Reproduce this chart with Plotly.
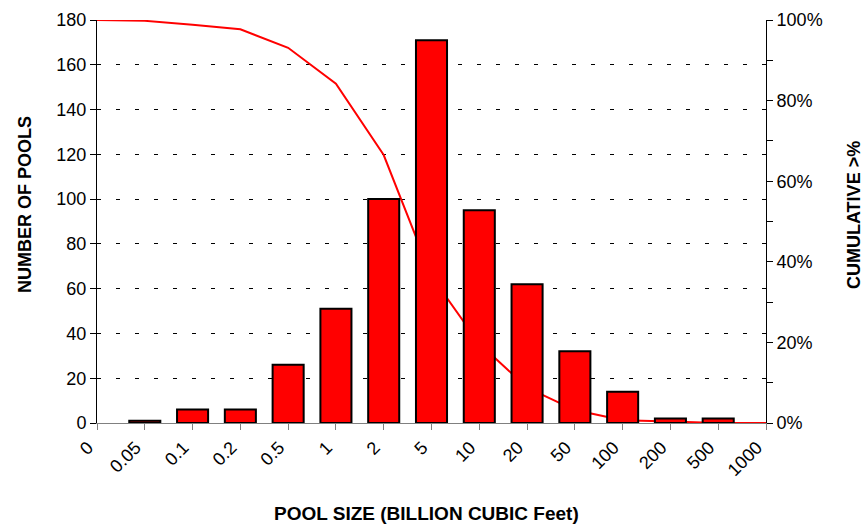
import plotly.graph_objects as go

categories = ["0", "0.05", "0.1", "0.2", "0.5", "1", "2", "5", "10", "20",
              "50", "100", "200", "500", "1000"]
pool_counts = [0, 1, 6, 6, 26, 51, 100, 171, 95, 62, 32, 14, 2, 2, 0]
cumulative_pct = [1.000, 0.998, 0.988, 0.977, 0.931, 0.842, 0.665, 0.364,
                  0.197, 0.088, 0.032, 0.007, 0.0035, 0.0, 0.0]

x_title = "POOL SIZE (BILLION CUBIC Feet)"
y_left_title = "NUMBER OF POOLS"
y_right_title = "CUMULATIVE >%"

FONT = "Liberation Sans, Arial, sans-serif"

fig = go.Figure()

# cumulative line on base axis (drawn beneath bars)
fig.add_trace(go.Scatter(
    x=categories, y=cumulative_pct, mode="lines",
    line=dict(color="#FF0000", width=2),
    xaxis="x", yaxis="y", showlegend=False, hoverinfo="skip",
))

# bars on the overlaying count axis
fig.add_trace(go.Bar(
    x=categories, y=pool_counts,
    marker=dict(color="#FF0000",
                line=dict(color="#000000",
                          width=[2 if v > 0 else 0 for v in pool_counts])),
    width=0.65,
    xaxis="x", yaxis="y2", showlegend=False,
))

fig.update_layout(
    width=866, height=524,
    margin=dict(l=97, r=100, t=20, b=101),
    paper_bgcolor="white", plot_bgcolor="white",
    font=dict(family=FONT, size=18, color="black"),
    xaxis=dict(
        type="category", range=[0, 14], automargin=False,
        showline=True, linecolor="#808080", linewidth=1,
        ticks="outside", tickcolor="#808080", ticklen=6, tickwidth=1,
        tickangle=-45, showgrid=False, zeroline=False,
        tickfont=dict(size=18), ticklabelshift=-9,
    ),
    yaxis=dict(
        side="right", range=[0, 1], dtick=0.2, tickformat=".0%",
        automargin=False,
        showline=True, linecolor="black", linewidth=1,
        ticks="outside", tickcolor="black", ticklen=6,
        minor=dict(dtick=0.1, ticks="outside", ticklen=6, tickcolor="black"),
        showgrid=False, zeroline=False,
        tickfont=dict(size=18),
    ),
    yaxis2=dict(
        side="left", overlaying="y", range=[0, 180], dtick=20,
        automargin=False,
        showline=True, linecolor="black", linewidth=1,
        ticks="outside", tickcolor="black", ticklen=6,
        showgrid=True, gridcolor="black", gridwidth=1, griddash="4px,15px",
        zeroline=False,
        tickfont=dict(size=18),
    ),
    bargap=0.35,
    annotations=[
        dict(text="<b>" + x_title + "</b>", xref="paper", yref="paper",
             x=0.493, y=-0.2258, showarrow=False, font=dict(size=19),
             xanchor="center", yanchor="middle"),
        dict(text="<b>" + y_left_title + "</b>", xref="paper", yref="paper",
             x=-0.1076, y=0.541, showarrow=False, font=dict(size=18),
             textangle=-90, xanchor="center", yanchor="middle"),
        dict(text="<b>" + y_right_title + "</b>", xref="paper", yref="paper",
             x=1.1315, y=0.516, showarrow=False, font=dict(size=18),
             textangle=-90, xanchor="center", yanchor="middle"),
    ],
)

fig.write_html("out.html",
               config={"displayModeBar": False},
               post_script="document.body.style.margin='0';"
                           "document.body.style.overflow='hidden';")
